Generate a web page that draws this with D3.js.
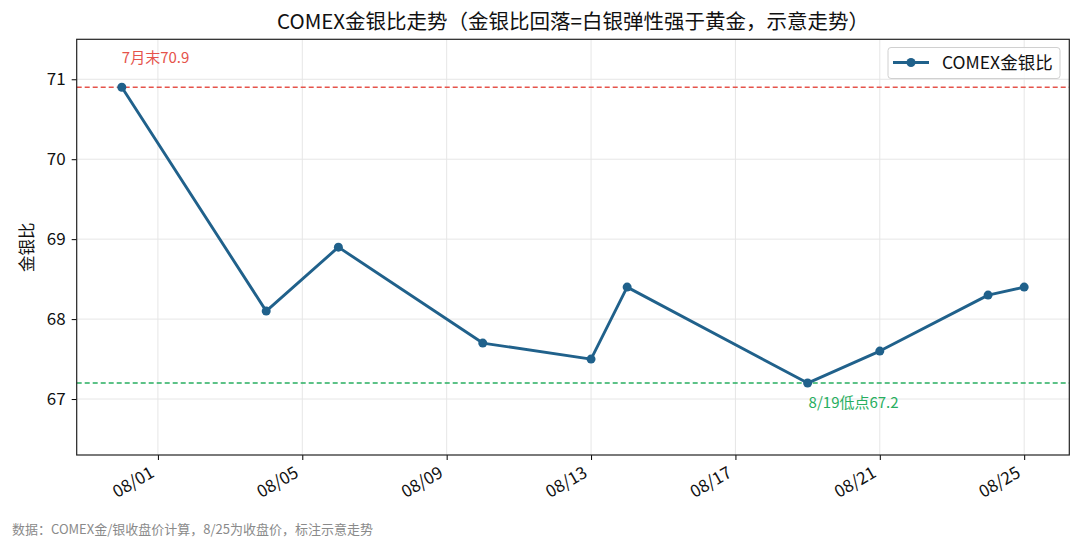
<!DOCTYPE html>
<html>
<head>
<meta charset="utf-8">
<script src="https://cdn.jsdelivr.net/npm/d3@7"></script>
<style>
  body { margin: 0; background: #fff; }
  text { font-family: "Noto Sans CJK SC", "Noto Sans", sans-serif; }
</style>
</head>
<body>
<div id="container-vis"></div>
<script>
// Datos del grafico

const FECHAS = ["2025-07-31", "2025-08-04", "2025-08-06", "2025-08-10", "2025-08-13",
                "2025-08-14", "2025-08-19", "2025-08-21", "2025-08-24", "2025-08-25"];
const RATIOS = [70.9, 68.1, 68.9, 67.7, 67.5, 68.4, 67.2, 67.6, 68.3, 68.4];
const TICKS_X = ["2025-08-01", "2025-08-05", "2025-08-09", "2025-08-13", "2025-08-17", "2025-08-21", "2025-08-25"];
const TICKS_Y = [67, 68, 69, 70, 71];
const DOMINIO_X = ["2025-07-29T18:00", "2025-08-26T06:00"];
const DOMINIO_Y = [66.3, 71.5];
const REF_ALTA = 70.9;
const REF_BAJA = 67.2;

const TITULO = "COMEX金银比走势（金银比回落=白银弹性强于黄金，示意走势）";
const ETIQUETA_Y = "金银比";
const LEYENDA = "COMEX金银比";
const NOTA_ALTA = "7月末70.9";
const NOTA_BAJA = "8/19低点67.2";
const FUENTE = "数据：COMEX金/银收盘价计算，8/25为收盘价，标注示意走势";

const WIDTH = 1080;
const HEIGHT = 550;

const MARGIN = {
    top: 39.3,
    bottom: 95,
    left: 76.7,
    right: 10.7,
}

const COLOR_LINEA = "#20618b";
const COLOR_ROJO = "#e5534b";
const COLOR_VERDE = "#27ae60";

var parseFecha = d3.timeParse("%Y-%m-%d");
var parseFechaHora = d3.timeParse("%Y-%m-%dT%H:%M");

const datos = FECHAS.map((f, i) => ({ fecha: parseFecha(f), valor: RATIOS[i] }));

const svg = d3.select("#container-vis")
    .append("svg")
    .attr("width", WIDTH)
    .attr("height", HEIGHT);

const x = d3.scaleTime()
    .domain(DOMINIO_X.map(parseFechaHora))
    .range([MARGIN.left, WIDTH - MARGIN.right]);

const y = d3.scaleLinear()
    .domain(DOMINIO_Y)
    .range([HEIGHT - MARGIN.bottom, MARGIN.top]);

// grilla
svg.append("g")
    .selectAll("line")
    .data(TICKS_X.map(parseFecha))
    .join("line")
    .attr("x1", d => x(d)).attr("x2", d => x(d))
    .attr("y1", MARGIN.top).attr("y2", HEIGHT - MARGIN.bottom)
    .attr("stroke", "#e6e6e6");

svg.append("g")
    .selectAll("line")
    .data(TICKS_Y)
    .join("line")
    .attr("x1", MARGIN.left).attr("x2", WIDTH - MARGIN.right)
    .attr("y1", d => y(d)).attr("y2", d => y(d))
    .attr("stroke", "#e6e6e6");

// lineas de referencia
svg.append("line")
    .attr("x1", MARGIN.left).attr("x2", WIDTH - MARGIN.right)
    .attr("y1", y(REF_ALTA)).attr("y2", y(REF_ALTA))
    .attr("stroke", COLOR_ROJO)
    .attr("stroke-width", 1.4)
    .attr("stroke-dasharray", "5,3");

svg.append("line")
    .attr("x1", MARGIN.left).attr("x2", WIDTH - MARGIN.right)
    .attr("y1", y(REF_BAJA)).attr("y2", y(REF_BAJA))
    .attr("stroke", COLOR_VERDE)
    .attr("stroke-width", 1.4)
    .attr("stroke-dasharray", "5,3");

// serie
const linea = d3.line()
    .x(d => x(d.fecha))
    .y(d => y(d.valor));

svg.append("path")
    .datum(datos)
    .attr("d", linea)
    .attr("fill", "none")
    .attr("stroke", COLOR_LINEA)
    .attr("stroke-width", 2.9)
    .attr("stroke-linejoin", "round");

svg.append("g")
    .selectAll("circle")
    .data(datos)
    .join("circle")
    .attr("cx", d => x(d.fecha))
    .attr("cy", d => y(d.valor))
    .attr("r", 4.5)
    .attr("fill", COLOR_LINEA);

// ejes
const ejeX = d3.axisBottom(x)
    .tickValues(TICKS_X.map(parseFecha))
    .tickFormat(d3.timeFormat("%m/%d"))
    .tickSizeInner(5)
    .tickSizeOuter(0);

const contenedorEjeX = svg.append("g")
    .attr("transform", `translate(0, ${HEIGHT - MARGIN.bottom})`)
    .call(ejeX);

contenedorEjeX.select(".domain").remove();
contenedorEjeX.selectAll("text")
    .attr("font-size", 17)
    .attr("fill", "#111")
    .attr("text-anchor", "end")
    .attr("dy", 0)
    .attr("y", 0)
    .attr("transform", "translate(-3, 21) rotate(-30)");

const ejeY = d3.axisLeft(y)
    .tickValues(TICKS_Y)
    .tickFormat(d3.format("d"))
    .tickSizeInner(5)
    .tickSizeOuter(0)
    .tickPadding(6);

const contenedorEjeY = svg.append("g")
    .attr("transform", `translate(${MARGIN.left}, 0)`)
    .call(ejeY);

contenedorEjeY.select(".domain").remove();
contenedorEjeY.selectAll("text")
    .attr("font-size", 17)
    .attr("fill", "#111");

// marco
svg.append("rect")
    .attr("x", MARGIN.left)
    .attr("y", MARGIN.top)
    .attr("width", WIDTH - MARGIN.left - MARGIN.right)
    .attr("height", HEIGHT - MARGIN.top - MARGIN.bottom)
    .attr("fill", "none")
    .attr("stroke", "#222")
    .attr("stroke-width", 1.2);

// anotaciones
svg.append("text")
    .attr("x", x(datos[0].fecha))
    .attr("y", y(REF_ALTA) - 24)
    .attr("font-size", 15)
    .attr("fill", COLOR_ROJO)
    .text(NOTA_ALTA);

const minimo = datos[d3.minIndex(datos, d => d.valor)];
svg.append("text")
    .attr("x", x(minimo.fecha) + 1)
    .attr("y", y(REF_BAJA) + 25)
    .attr("font-size", 15)
    .attr("fill", COLOR_VERDE)
    .text(NOTA_BAJA);

// titulos
svg.append("text")
    .attr("x", (MARGIN.left + WIDTH - MARGIN.right) / 2)
    .attr("y", 29)
    .attr("text-anchor", "middle")
    .attr("font-size", 20.5)
    .attr("fill", "#111")
    .text(TITULO);

svg.append("text")
    .attr("transform", `translate(33, ${(MARGIN.top + HEIGHT - MARGIN.bottom) / 2}) rotate(-90)`)
    .attr("text-anchor", "middle")
    .attr("font-size", 16.5)
    .attr("fill", "#111")
    .text(ETIQUETA_Y);

svg.append("text")
    .attr("x", 12)
    .attr("y", 534)
    .attr("font-size", 13)
    .attr("fill", "#8a8a8a")
    .text(FUENTE);

// leyenda
const leyenda = svg.append("g")
    .attr("transform", "translate(888, 47.5)");

leyenda.append("rect")
    .attr("width", 172)
    .attr("height", 31)
    .attr("rx", 3)
    .attr("fill", "#fff")
    .attr("fill-opacity", 0.8)
    .attr("stroke", "#d0d0d0");

leyenda.append("line")
    .attr("x1", 5).attr("x2", 41)
    .attr("y1", 15).attr("y2", 15)
    .attr("stroke", COLOR_LINEA)
    .attr("stroke-width", 2.9);

leyenda.append("circle")
    .attr("cx", 23).attr("cy", 15)
    .attr("r", 4.5)
    .attr("fill", COLOR_LINEA);

leyenda.append("text")
    .attr("x", 54)
    .attr("y", 21)
    .attr("font-size", 17.5)
    .attr("fill", "#111")
    .text(LEYENDA);
</script>
</body>
</html>
